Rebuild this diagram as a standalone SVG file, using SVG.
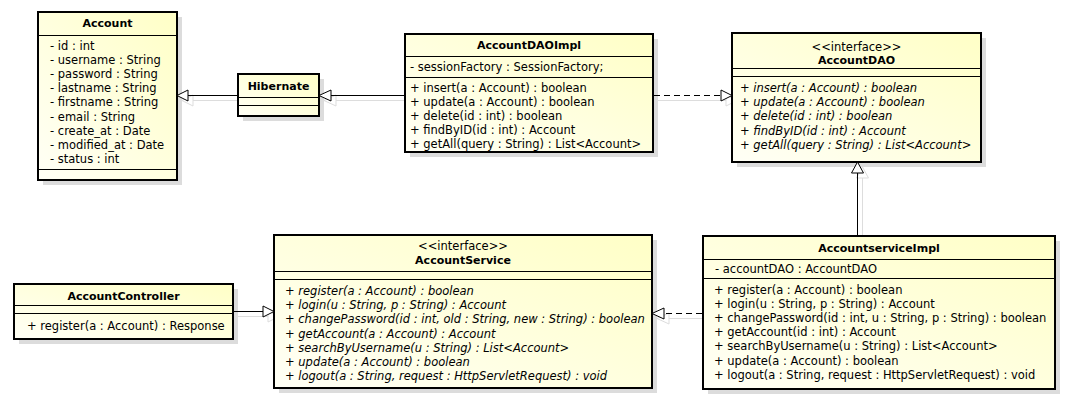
<svg xmlns="http://www.w3.org/2000/svg" width="1075" height="412" viewBox="0 0 1075 412">
<defs>
<linearGradient id="fill" x1="0" y1="1" x2="1" y2="0">
<stop offset="0" stop-color="#FFFFF6"/>
<stop offset="1" stop-color="#FFFFC6"/>
</linearGradient>
<style>
.box{fill:url(#fill);stroke:#000;stroke-width:2}
.sh{fill:#DCDCDC}
.div{stroke:#000;stroke-width:1}
text{font-family:"DejaVu Sans",sans-serif;font-size:11.5px;fill:#000}
.t{font-weight:bold;font-size:11px;text-anchor:middle}
.st{text-anchor:middle}
.i{font-style:italic}
.ln{stroke:#000;stroke-width:1;fill:none}
.dl{stroke:#000;stroke-width:1;fill:none;stroke-dasharray:6,4}
.lsh{stroke:#DDDDDD;stroke-width:1;fill:none}
.tri{fill:#fff;stroke:#000;stroke-width:1}
.trish{fill:none;stroke:#DDDDDD;stroke-width:1}
</style>
</defs>
<rect width="1075" height="412" fill="#fff"/>

<g id="connector-shadows">
<line class="lsh" x1="243" y1="100.5" x2="193" y2="100.5"/>
<polygon class="trish" points="182,100.5 193,95 193,106"/>
<line class="lsh" x1="410" y1="100.5" x2="336" y2="100.5"/>
<polygon class="trish" points="324,100.5 336,95 336,106"/>
<line class="lsh" x1="658" y1="100.5" x2="726" y2="100.5"/>
<polygon class="trish" points="737,100.5 726,95 726,106"/>
<line class="lsh" x1="862.5" y1="241" x2="862.5" y2="178"/>
<polygon class="trish" points="862.5,167 856.5,178 868.5,178"/>
<line class="lsh" x1="238" y1="316.5" x2="268" y2="316.5"/>
<polygon class="trish" points="279,316.5 268,311 268,322"/>
<line class="lsh" x1="708" y1="318.5" x2="669" y2="318.5"/>
<polygon class="trish" points="657,318.5 669,313 669,324"/>
</g>

<g id="Account">
<rect class="sh" x="43" y="17" width="139" height="168"/>
<rect class="box" x="38" y="12" width="139" height="168"/>
<line class="div" x1="38" y1="35.5" x2="177" y2="35.5"/>
<line class="div" x1="38" y1="169.5" x2="177" y2="169.5"/>
<text class="t" x="107.5" y="27">Account</text>
<text x="50" y="50">- id : int</text>
<text x="50" y="64.1">- username : String</text>
<text x="50" y="78.2">- password : String</text>
<text x="50" y="92.3">- lastname : String</text>
<text x="50" y="106.4">- firstname : String</text>
<text x="50" y="120.5">- email : String</text>
<text x="50" y="134.6">- create_at : Date</text>
<text x="50" y="148.7">- modified_at : Date</text>
<text x="50" y="162.8">- status : int</text>
</g>

<g id="Hibernate">
<rect class="sh" x="243" y="79" width="81" height="42"/>
<rect class="box" x="238" y="74" width="81" height="42"/>
<line class="div" x1="238" y1="97.5" x2="319" y2="97.5"/>
<line class="div" x1="238" y1="105.5" x2="319" y2="105.5"/>
<text class="t" x="278.5" y="90">Hibernate</text>
</g>

<g id="AccountDAOImpl">
<rect class="sh" x="410" y="39" width="248" height="118"/>
<rect class="box" x="405" y="34" width="248" height="118"/>
<line class="div" x1="405" y1="56.5" x2="653" y2="56.5"/>
<line class="div" x1="405" y1="77.5" x2="653" y2="77.5"/>
<text class="t" x="529" y="49">AccountDAOImpl</text>
<text x="410" y="71">- sessionFactory : SessionFactory;</text>
<text x="410" y="92">+ insert(a : Account) : boolean</text>
<text x="410" y="106">+ update(a : Account) : boolean</text>
<text x="410" y="120">+ delete(id : int) : boolean</text>
<text x="410" y="134">+ findByID(id : int) : Account</text>
<text x="410" y="148">+ getAll(query : String) : List&lt;Account&gt;</text>
</g>

<g id="AccountDAO">
<rect class="sh" x="737" y="38" width="249" height="129"/>
<rect class="box" x="732" y="33" width="249" height="129"/>
<line class="div" x1="732" y1="68.5" x2="981" y2="68.5"/>
<line class="div" x1="732" y1="76.5" x2="981" y2="76.5"/>
<text class="st" x="856.5" y="51">&lt;&lt;interface&gt;&gt;</text>
<text class="t" x="856.5" y="63.5">AccountDAO</text>
<text class="i" x="740" y="92">+ insert(a : Account) : boolean</text>
<text class="i" x="740" y="106.2">+ update(a : Account) : boolean</text>
<text class="i" x="740" y="120.4">+ delete(id : int) : boolean</text>
<text class="i" x="740" y="134.6">+ findByID(id : int) : Account</text>
<text class="i" x="740" y="148.8">+ getAll(query : String) : List&lt;Account&gt;</text>
</g>

<g id="AccountController">
<rect class="sh" x="19" y="289" width="219" height="55"/>
<rect class="box" x="14" y="284" width="219" height="55"/>
<line class="div" x1="14" y1="305.5" x2="233" y2="305.5"/>
<line class="div" x1="14" y1="313.5" x2="233" y2="313.5"/>
<text class="t" x="123.5" y="299.5">AccountController</text>
<text x="27" y="329.5">+ register(a : Account) : Response</text>
</g>

<g id="AccountService">
<rect class="sh" x="279" y="240" width="378" height="153"/>
<rect class="box" x="274" y="235" width="378" height="153"/>
<line class="div" x1="274" y1="271.5" x2="652" y2="271.5"/>
<line class="div" x1="274" y1="279.5" x2="652" y2="279.5"/>
<text class="st" x="463" y="249.5">&lt;&lt;interface&gt;&gt;</text>
<text class="t" x="463" y="263.5">AccountService</text>
<text class="i" x="285" y="295">+ register(a : Account) : boolean</text>
<text class="i" x="285" y="309.2">+ login(u : String, p : String) : Account</text>
<text class="i" x="285" y="323.4">+ changePassword(id : int, old : String, new : String) : boolean</text>
<text class="i" x="285" y="337.6">+ getAccount(a : Account) : Account</text>
<text class="i" x="285" y="351.8">+ searchByUsername(u : String) : List&lt;Account&gt;</text>
<text class="i" x="285" y="366">+ update(a : Account) : boolean</text>
<text class="i" x="285" y="380.2">+ logout(a : String, request : HttpServletRequest) : void</text>
</g>

<g id="AccountserviceImpl">
<rect class="sh" x="708" y="241" width="352" height="153"/>
<rect class="box" x="703" y="236" width="352" height="153"/>
<line class="div" x1="703" y1="259.5" x2="1055" y2="259.5"/>
<line class="div" x1="703" y1="278.5" x2="1055" y2="278.5"/>
<text class="t" x="879" y="252">AccountserviceImpl</text>
<text x="715" y="272.5">- accountDAO : AccountDAO</text>
<text x="714" y="293.5">+ register(a : Account) : boolean</text>
<text x="714" y="307.7">+ login(u : String, p : String) : Account</text>
<text x="714" y="321.9">+ changePassword(id : int, u : String, p : String) : boolean</text>
<text x="714" y="336.1">+ getAccount(id : int) : Account</text>
<text x="714" y="350.3">+ searchByUsername(u : String) : List&lt;Account&gt;</text>
<text x="714" y="364.5">+ update(a : Account) : boolean</text>
<text x="714" y="378.7">+ logout(a : String, request : HttpServletRequest) : void</text>
</g>

<g id="connectors">
<line class="ln" x1="238" y1="95.5" x2="188" y2="95.5"/>
<polygon class="tri" points="177,95.5 188,90 188,101"/>
<line class="ln" x1="405" y1="95.5" x2="331" y2="95.5"/>
<polygon class="tri" points="319,95.5 331,90 331,101"/>
<line class="dl" x1="654" y1="95.5" x2="721" y2="95.5"/>
<polygon class="tri" points="732,95.5 721,90 721,101"/>
<line class="ln" x1="857.5" y1="236" x2="857.5" y2="173"/>
<polygon class="tri" points="857.5,162 851.5,173 863.5,173"/>
<line class="ln" x1="233" y1="311.5" x2="263" y2="311.5"/>
<polygon class="tri" points="274,311.5 263,306 263,317"/>
<line class="dl" x1="702" y1="313.5" x2="664" y2="313.5"/>
<polygon class="tri" points="652,313.5 664,308 664,319"/>
</g>
</svg>
